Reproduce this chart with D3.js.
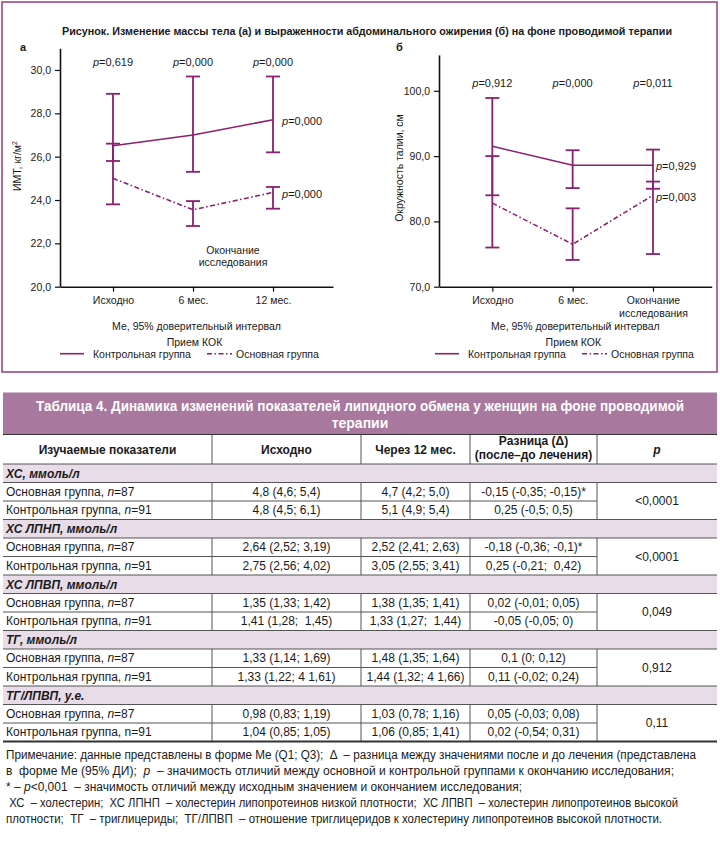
<!DOCTYPE html>
<html>
<head>
<meta charset="utf-8">
<script src="https://cdn.jsdelivr.net/npm/d3@7"></script>
<style>
  body { margin: 0; background: #fff; }
  svg text { font-family: "Liberation Sans", Arial, sans-serif; fill: #1a1a1a; white-space: pre; }
  .narrow { font-family: "Liberation Sans Narrow", "Roboto Condensed", "Liberation Sans", Arial, sans-serif; }
</style>
</head>
<body>
<svg id="fig" width="720" height="849"></svg>
<script>
// ---- panel а: ИМТ ----
const catsA = ['Исходно', '6 мес.', '12 мес.'];
const ctrlMedA = [26.5, 27.0, 27.7];
const ctrlLoA  = [25.8, 25.3, 26.2];
const ctrlHiA  = [28.9, 29.7, 29.7];
const mainMedA = [25.0, 23.55, 24.35];
const mainLoA  = [23.8, 22.8, 23.6];
const mainHiA  = [26.6, 23.95, 24.6];
const pTopA    = ['0,619', '0,000', '0,000'];
const pEndA    = ['0,000', '0,000'];   // control, main
const ticksA   = [20, 22, 24, 26, 28, 30];

// ---- panel б: окружность талии ----
const catsB = ['Исходно', '6 мес.', 'Окончание\nисследования'];
const ctrlMedB = [91.5, 88.6, 88.6];
const ctrlLoB  = [84.0, 85.1, 85.0];
const ctrlHiB  = [98.9, 90.9, 91.0];
const mainMedB = [82.8, 76.5, 84.0];
const mainLoB  = [76.0, 74.1, 75.0];
const mainHiB  = [90.0, 82.0, 86.1];
const pTopB    = ['0,912', '0,000', '0,011'];
const pEndB    = ['0,929', '0,003'];
const ticksB   = [70, 80, 90, 100];

// ---- таблица 4 ----
const tableGroups = ['ХС, ммоль/л', 'ХС ЛПНП, ммоль/л', 'ХС ЛПВП, ммоль/л', 'ТГ, ммоль/л', 'ТГ/ЛПВП, у.е.'];
const baseMain  = ['4,8 (4,6; 5,4)', '2,64 (2,52; 3,19)', '1,35 (1,33; 1,42)', '1,33 (1,14; 1,69)', '0,98 (0,83; 1,19)'];
const baseCtrl  = ['4,8 (4,5; 6,1)', '2,75 (2,56; 4,02)', '1,41 (1,28;  1,45)', '1,33 (1,22; 4 1,61)', '1,04 (0,85; 1,05)'];
const m12Main   = ['4,7 (4,2; 5,0)', '2,52 (2,41; 2,63)', '1,38 (1,35; 1,41)', '1,48 (1,35; 1,64)', '1,03 (0,78; 1,16)'];
const m12Ctrl   = ['5,1 (4,9; 5,4)', '3,05 (2,55; 3,41)', '1,33 (1,27;  1,44)', '1,44 (1,32; 4 1,66)', '1,06 (0,85; 1,41)'];
const deltaMain = ['-0,15 (-0,35; -0,15)*', '-0,18 (-0,36; -0,1)*', '0,02 (-0,01; 0,05)', '0,1 (0; 0,12)', '0,05 (-0,03; 0,08)'];
const deltaCtrl = ['0,25 (-0,5; 0,5)', '0,25 (-0,21;  0,42)', '-0,05 (-0,05; 0)', '0,11 (-0,02; 0,24)', '0,02 (-0,54; 0,31)'];
const pValues   = ['<0,0001', '<0,0001', '0,049', '0,912', '0,11'];

const PURPLE = '#8c1f70';
const svg = d3.select('#fig');
const comma = d => d3.format('.1f')(d).replace('.', ',');

// figure frame
svg.append('rect')
  .attr('x', 2).attr('y', 2).attr('width', 715).attr('height', 370)
  .attr('fill', 'none').attr('stroke', '#a65c97').attr('stroke-width', 1.8);

svg.append('text')
  .attr('x', 367).attr('y', 35).attr('text-anchor', 'middle')
  .attr('font-size', 10.5).attr('font-weight', 'bold')
  .attr('textLength', 610).attr('lengthAdjust', 'spacingAndGlyphs')
  .text('Рисунок. Изменение массы тела (а) и выраженности абдоминального ожирения (б) на фоне проводимой терапии');

function drawPanel(o) {
  const g = svg.append('g');
  const x = d3.scaleLinear().domain(o.xDomain).range([o.left, o.right]);
  const y = d3.scaleLinear().domain(o.yDomain).range([286.7, o.top]);

  g.append('text').attr('x', o.letterX).attr('y', 51)
    .attr('font-size', 11).attr('font-weight', 'bold').text(o.letter);

  // axes
  const ya = g.append('g').attr('transform', `translate(${o.left},0)`)
    .call(d3.axisLeft(y).tickValues(o.ticks).tickFormat(comma).tickSize(5).tickSizeOuter(0).tickPadding(4));
  const xa = g.append('g').attr('transform', 'translate(0,286.7)')
    .call(d3.axisBottom(x).tickValues(d3.range(o.cats.length)).tickFormat(i => o.cats[i]).tickSize(5).tickSizeOuter(0).tickPadding(5));
  [ya, xa].forEach(a => {
    a.select('.domain').attr('stroke', '#111').attr('stroke-width', 1.6);
    a.selectAll('.tick line').attr('stroke', '#111').attr('stroke-width', 1.2);
    a.selectAll('.tick text').attr('font-size', 10.5).attr('font-family', null).attr('fill', '#1a1a1a');
  });
  xa.selectAll('.tick text').each(function (i) {
    const parts = o.cats[i].split('\n');
    const t = d3.select(this).text(null);
    parts.forEach((p, k) => t.append('tspan').attr('x', 0).attr('dy', k ? '1.25em' : '0.71em').text(p));
  });

  // y title
  g.append('text')
    .attr('transform', `translate(${o.yTitleX},${o.yTitleY}) rotate(-90)`)
    .attr('text-anchor', 'middle').attr('font-size', 10.5)
    .html(o.yTitle);

  const idx = d3.range(o.cats.length);
  const line = d3.line().x(i => x(i));

  // error bars
  const bars = (lo, hi) => {
    const eb = g.append('g').attr('stroke', PURPLE).attr('stroke-width', 1.8).attr('fill', 'none');
    idx.forEach(i => {
      eb.append('line').attr('x1', x(i)).attr('x2', x(i)).attr('y1', y(lo[i])).attr('y2', y(hi[i]));
      [lo[i], hi[i]].forEach(v =>
        eb.append('line').attr('x1', x(i) - 7).attr('x2', x(i) + 7).attr('y1', y(v)).attr('y2', y(v)));
    });
  };
  bars(o.ctrlLo, o.ctrlHi);
  bars(o.mainLo, o.mainHi);

  g.append('path').datum(idx)
    .attr('d', line.y(i => y(o.ctrlMed[i])))
    .attr('fill', 'none').attr('stroke', PURPLE).attr('stroke-width', 1.6);
  g.append('path').datum(idx)
    .attr('d', line.y(i => y(o.mainMed[i])))
    .attr('fill', 'none').attr('stroke', PURPLE).attr('stroke-width', 1.6)
    .attr('stroke-dasharray', '5,2.5,1.5,2.5');

  // p-values
  const pLabel = (sel, val) => {
    sel.append('tspan').attr('font-style', 'italic').text('p');
    sel.append('tspan').text('=' + val);
  };
  idx.forEach(i => {
    g.append('text').attr('x', x(i)).attr('y', o.pTopY).attr('text-anchor', 'middle')
      .attr('font-size', 11).call(pLabel, o.pTop[i]);
  });
  const last = o.cats.length - 1;
  g.append('text').attr('x', x(last) + o.pEndDx).attr('y', y(o.ctrlMed[last]) + 5)
    .attr('font-size', 11).call(pLabel, o.pEnd[0]);
  g.append('text').attr('x', x(last) + o.pEndDx).attr('y', y(o.mainMed[last]) + 6)
    .attr('font-size', 11).call(pLabel, o.pEnd[1]);

  // under-axis captions
  const cx = (o.left + o.right) / 2;
  g.append('text').attr('x', cx).attr('y', 329.5).attr('text-anchor', 'middle')
    .attr('font-size', 10.5).text('Ме, 95% доверительный интервал');
  g.append('text').attr('x', cx - 2).attr('y', 345.5).attr('text-anchor', 'middle')
    .attr('font-size', 10.5).text('Прием КОК');

  // legend
  const lg = g.append('g').attr('transform', `translate(${o.legendX},353.7)`);
  lg.append('line').attr('x1', 0).attr('x2', 24).attr('stroke', PURPLE).attr('stroke-width', 1.6);
  lg.append('text').attr('x', 33).attr('y', 3.8).attr('font-size', 10.5).text('Контрольная группа');
  lg.append('line').attr('x1', 147).attr('x2', 172).attr('stroke', PURPLE).attr('stroke-width', 1.6)
    .attr('stroke-dasharray', '5,2.5,1.5,2.5');
  lg.append('text').attr('x', 176).attr('y', 3.8).attr('font-size', 10.5).text('Основная группа');

  return { g, x, y };
}

const pa = drawPanel({
  letter: 'а', letterX: 20, cats: catsA,
  left: 60, right: 333, xDomain: [-53 / 80, 2 + 60 / 80],
  top: 48.3, yDomain: [20, 31], ticks: ticksA,
  ctrlMed: ctrlMedA, ctrlLo: ctrlLoA, ctrlHi: ctrlHiA,
  mainMed: mainMedA, mainLo: mainLoA, mainHi: mainHiA,
  pTop: pTopA, pEnd: pEndA, pTopY: 66, pEndDx: 9,
  yTitle: 'ИМТ, кг/м<tspan font-size="7" dy="-4">2</tspan>', yTitleX: 21, yTitleY: 166,
  legendX: 60
});
// stray caption inside panel а
pa.g.append('text').attr('x', 233).attr('y', 254).attr('text-anchor', 'middle')
  .attr('font-size', 10.5).text('Окончание');
pa.g.append('text').attr('x', 233).attr('y', 266).attr('text-anchor', 'middle')
  .attr('font-size', 10.5).text('исследования');

drawPanel({
  letter: 'б', letterX: 396, cats: catsB,
  left: 439, right: 711.7, xDomain: [-53.3 / 80.3, 2 + 58.7 / 80.3],
  top: 54.9, yDomain: [70, 105.5], ticks: ticksB,
  ctrlMed: ctrlMedB, ctrlLo: ctrlLoB, ctrlHi: ctrlHiB,
  mainMed: mainMedB, mainLo: mainLoB, mainHi: mainHiB,
  pTop: pTopB, pEnd: pEndB, pTopY: 87, pEndDx: 3,
  yTitle: 'Окружность талии, см', yTitleX: 403, yTitleY: 168,
  legendX: 435
});

// ---------------- table ----------------
const cols = [3, 212, 361, 470, 597, 717];
const T = svg.append('g').attr('class', 'narrow');
const bandTop = 392.5, bandBot = 434.5, headBot = 464, rowH = 18.5;

T.append('rect').attr('x', 3).attr('y', bandTop).attr('width', 714).attr('height', bandBot - bandTop)
  .attr('fill', '#a8789e');
T.append('text').attr('x', 360).attr('y', 410.5).attr('text-anchor', 'middle')
  .attr('font-size', 14).attr('font-weight', 'bold').style('fill', '#fff')
  .attr('textLength', 648).attr('lengthAdjust', 'spacingAndGlyphs')
  .text('Таблица 4. Динамика изменений показателей липидного обмена у женщин на фоне проводимой');
T.append('text').attr('x', 360).attr('y', 427.5).attr('text-anchor', 'middle')
  .attr('font-size', 14).attr('font-weight', 'bold').style('fill', '#fff').text('терапии');

// header row
const heads = [['Изучаемые показатели'], ['Исходно'], ['Через 12 мес.'], ['Разница (Δ)', '(после–до лечения)'], ['p']];
heads.forEach((h, c) => {
  const cx = (cols[c] + cols[c + 1]) / 2;
  h.forEach((s, k) => {
    T.append('text').attr('x', cx).attr('text-anchor', 'middle')
      .attr('y', h.length === 1 ? 453.5 : 445 + k * 13.5)
      .attr('font-size', 12).attr('font-weight', 'bold')
      .attr('font-style', s === 'p' ? 'italic' : null).text(s);
  });
});
cols.slice(1, -1).forEach(cx =>
  T.append('line').attr('x1', cx).attr('x2', cx).attr('y1', bandBot).attr('y2', headBot)
    .attr('stroke', '#555').attr('stroke-width', 1));

const lineH = (yy, w = 1, col = '#555') => T.append('line').attr('x1', 3).attr('x2', 717)
  .attr('y1', yy).attr('y2', yy).attr('stroke', col).attr('stroke-width', w);

tableGroups.forEach((grp, gi) => {
  const y0 = headBot + gi * 3 * rowH;
  T.append('rect').attr('x', 3).attr('y', y0).attr('width', 714).attr('height', rowH).attr('fill', '#e7dce7');
  T.append('text').attr('x', 6).attr('y', y0 + rowH / 2 + 4.3).attr('font-size', 12)
    .attr('font-weight', 'bold').attr('font-style', 'italic').text(grp);
  const rows = [
    ['Основная группа, ', '87', true, baseMain[gi], m12Main[gi], deltaMain[gi]],
    ['Контрольная группа, ', '91', gi < 4, baseCtrl[gi], m12Ctrl[gi], deltaCtrl[gi]]
  ];
  rows.forEach((r, ri) => {
    const ry = y0 + (ri + 1) * rowH;
    const t = T.append('text').attr('x', 6).attr('y', ry + rowH / 2 + 4).attr('font-size', 12);
    t.append('tspan').text(r[0]);
    t.append('tspan').attr('font-style', r[2] ? 'italic' : null).text('n');
    t.append('tspan').text('=' + r[1]);
    [r[3], r[4], r[5]].forEach((v, k) => {
      T.append('text').attr('x', (cols[k + 1] + cols[k + 2]) / 2).attr('y', ry + rowH / 2 + 4)
        .attr('text-anchor', 'middle').attr('font-size', 12).text(v);
    });
    cols.slice(1, -1).forEach(cx =>
      T.append('line').attr('x1', cx).attr('x2', cx).attr('y1', ry).attr('y2', ry + rowH)
        .attr('stroke', '#555').attr('stroke-width', 1));
  });
  T.append('text').attr('x', (cols[4] + cols[5]) / 2).attr('y', y0 + 2 * rowH + 4)
    .attr('text-anchor', 'middle').attr('font-size', 12).text(pValues[gi]);
  lineH(y0);
  lineH(y0 + rowH);
  T.append('line').attr('x1', 3).attr('x2', cols[4]).attr('y1', y0 + 2 * rowH).attr('y2', y0 + 2 * rowH)
    .attr('stroke', '#555').attr('stroke-width', 1);
});
lineH(bandBot, 1.2, '#333');
const tableBot = headBot + tableGroups.length * 3 * rowH;
lineH(tableBot, 2, '#333');

// footnote
const notes = [
  [['Примечание: данные представлены в форме Me (Q1; Q3);  Δ  – разница между значениями после и до лечения (представлена', 0]],
  [['в  форме Me (95% ДИ);  ', 0], ['p', 1], ['  – значимость отличий между основной и контрольной группами к окончанию исследования;', 0]],
  [['* – ', 0], ['p', 1], ['<0,001  – значимость отличий между исходным значением и окончанием исследования;', 0]],
  [[' ХС  – холестерин;  ХС ЛПНП  – холестерин липопротеинов низкой плотности;  ХС ЛПВП  – холестерин липопротеинов высокой', 0]],
  [['плотности;  ТГ  – триглицериды;  ТГ/ЛПВП  – отношение триглицеридов к холестерину липопротеинов высокой плотности.', 0]]
];
const noteW = [690, 668, 516, 672, 656];
notes.forEach((parts, k) => {
  const t = T.append('text').attr('x', 6).attr('y', tableBot + 17.5 + k * 16).attr('font-size', 12)
    .attr('textLength', noteW[k]).attr('lengthAdjust', 'spacingAndGlyphs');
  parts.forEach(([s, it]) => t.append('tspan').attr('font-style', it ? 'italic' : null).text(s));
});
</script>
</body>
</html>
